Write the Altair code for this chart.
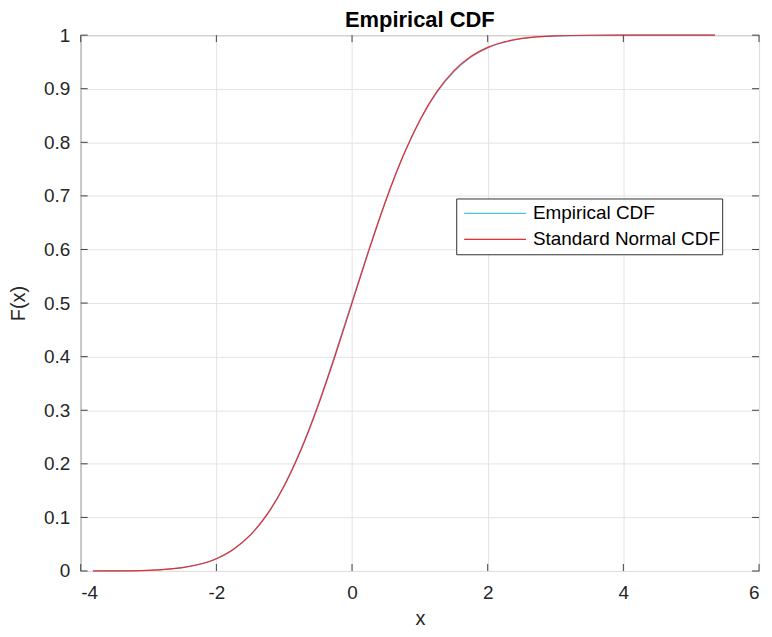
import altair as alt
import pandas as pd

# Values
x_pts = [-3.82, -3.5, -3.0, -2.5, -2.0, -1.75, -1.5, -1.25, -1.0, -0.75, -0.5, -0.25,
         0.0, 0.25, 0.5, 0.75, 1.0, 1.25, 1.5, 1.75, 2.0, 2.5, 3.0, 3.5, 4.0, 5.35]
empirical = [0.0, 0.0003, 0.0014, 0.0063, 0.0230, 0.0405, 0.0675, 0.1065, 0.1600, 0.2285,
             0.3110, 0.4045, 0.5030, 0.6010, 0.6930, 0.7740, 0.8405, 0.8930, 0.9315,
             0.9585, 0.9760, 0.9932, 0.9985, 0.9997, 1.0, 1.0]
normal = [0.0001, 0.0002, 0.0013, 0.0062, 0.0228, 0.0401, 0.0668, 0.1056, 0.1587, 0.2266,
          0.3085, 0.4013, 0.5, 0.5987, 0.6915, 0.7734, 0.8413, 0.8944, 0.9332, 0.9599,
          0.9772, 0.9938, 0.9987, 0.9998, 1.0, 1.0]
series_names = ["Empirical CDF", "Standard Normal CDF"]
series_colors = ["#4DBEEE", "#EE2A2A"]
x_ticks = [-4, -2, 0, 2, 4, 6]
y_ticks = [0, 0.1, 0.2, 0.3, 0.4, 0.5, 0.6, 0.7, 0.8, 0.9, 1]

W, H = 681, 538
FONT = "Liberation Sans"
INK = "#262626"

df = pd.concat([
    pd.DataFrame({"x": x_pts, "F": empirical, "series": series_names[0]}),
    pd.DataFrame({"x": x_pts, "F": normal, "series": series_names[1]}),
], ignore_index=True)

xscale = alt.Scale(domain=[-4, 6], nice=False, zero=False)
yscale = alt.Scale(domain=[0, 1], nice=False)

xt = pd.DataFrame({"x": x_ticks})
yt = pd.DataFrame({"F": y_ticks})
tick_color = "#404040"

lines = alt.Chart(df).mark_line(strokeWidth=1.2, interpolate="monotone").encode(
    x=alt.X("x:Q", scale=xscale, title="x",
            axis=alt.Axis(values=x_ticks, labelPadding=13, titlePadding=6,
                          gridColor="#e3e3e3", grid=True, ticks=False, domain=False,
                          labelExpr="'' + datum.value")),
    y=alt.Y("F:Q", scale=yscale, title="F(x)",
            axis=alt.Axis(values=y_ticks, labelPadding=11, titlePadding=15,
                          gridColor="#e3e3e3", grid=True, ticks=False, domain=False,
                          labelExpr="datum.value == 0 ? '0' : datum.value == 1 ? '1' : format(datum.value, '.1f')")),
    color=alt.Color("series:N",
                    scale=alt.Scale(domain=series_names, range=series_colors),
                    legend=alt.Legend(title=None, orient="none", legendX=377, legendY=164,
                                      symbolType="stroke", symbolSize=3844, clipHeight=26,
                                      symbolStrokeWidth=1.2, symbolOffset=5,
                                      labelFontSize=19, labelFont=FONT, labelColor="#000000",
                                      labelOffset=6, labelLimit=400, padding=2, rowPadding=0,
                                      strokeColor="#303030", fillColor="white",
                                      cornerRadius=0)),
)

xb = alt.Chart(xt).mark_rule(color=tick_color).encode(
    x=alt.X("x:Q", scale=xscale), y=alt.value(H), y2=alt.value(H - 7))
xtp = alt.Chart(xt).mark_rule(color=tick_color).encode(
    x=alt.X("x:Q", scale=xscale), y=alt.value(0), y2=alt.value(7))
yl = alt.Chart(yt).mark_rule(color=tick_color).encode(
    y=alt.Y("F:Q", scale=yscale), x=alt.value(0), x2=alt.value(7))
yr = alt.Chart(yt).mark_rule(color=tick_color).encode(
    y=alt.Y("F:Q", scale=yscale), x=alt.value(W), x2=alt.value(W - 7))

chart = alt.layer(lines, xb, xtp, yl, yr).properties(
    width=W, height=H,
    background="white",
    title=alt.TitleParams("Empirical CDF", fontSize=22, font=FONT, fontWeight="bold",
                          color="#000000", offset=-6, anchor="middle"),
    autosize=alt.AutoSizeParams(type="none"),
    padding={"left": 73, "top": 26, "right": 5, "bottom": 57},
).configure_view(
    stroke="#404040", strokeWidth=1
).configure_axis(
    labelFont=FONT, labelFontSize=19, labelColor=INK,
    titleFont=FONT, titleFontSize=20, titleColor=INK, titleFontWeight="normal",
)

chart.save("out.html", embed_options={"renderer": "svg", "actions": False})
